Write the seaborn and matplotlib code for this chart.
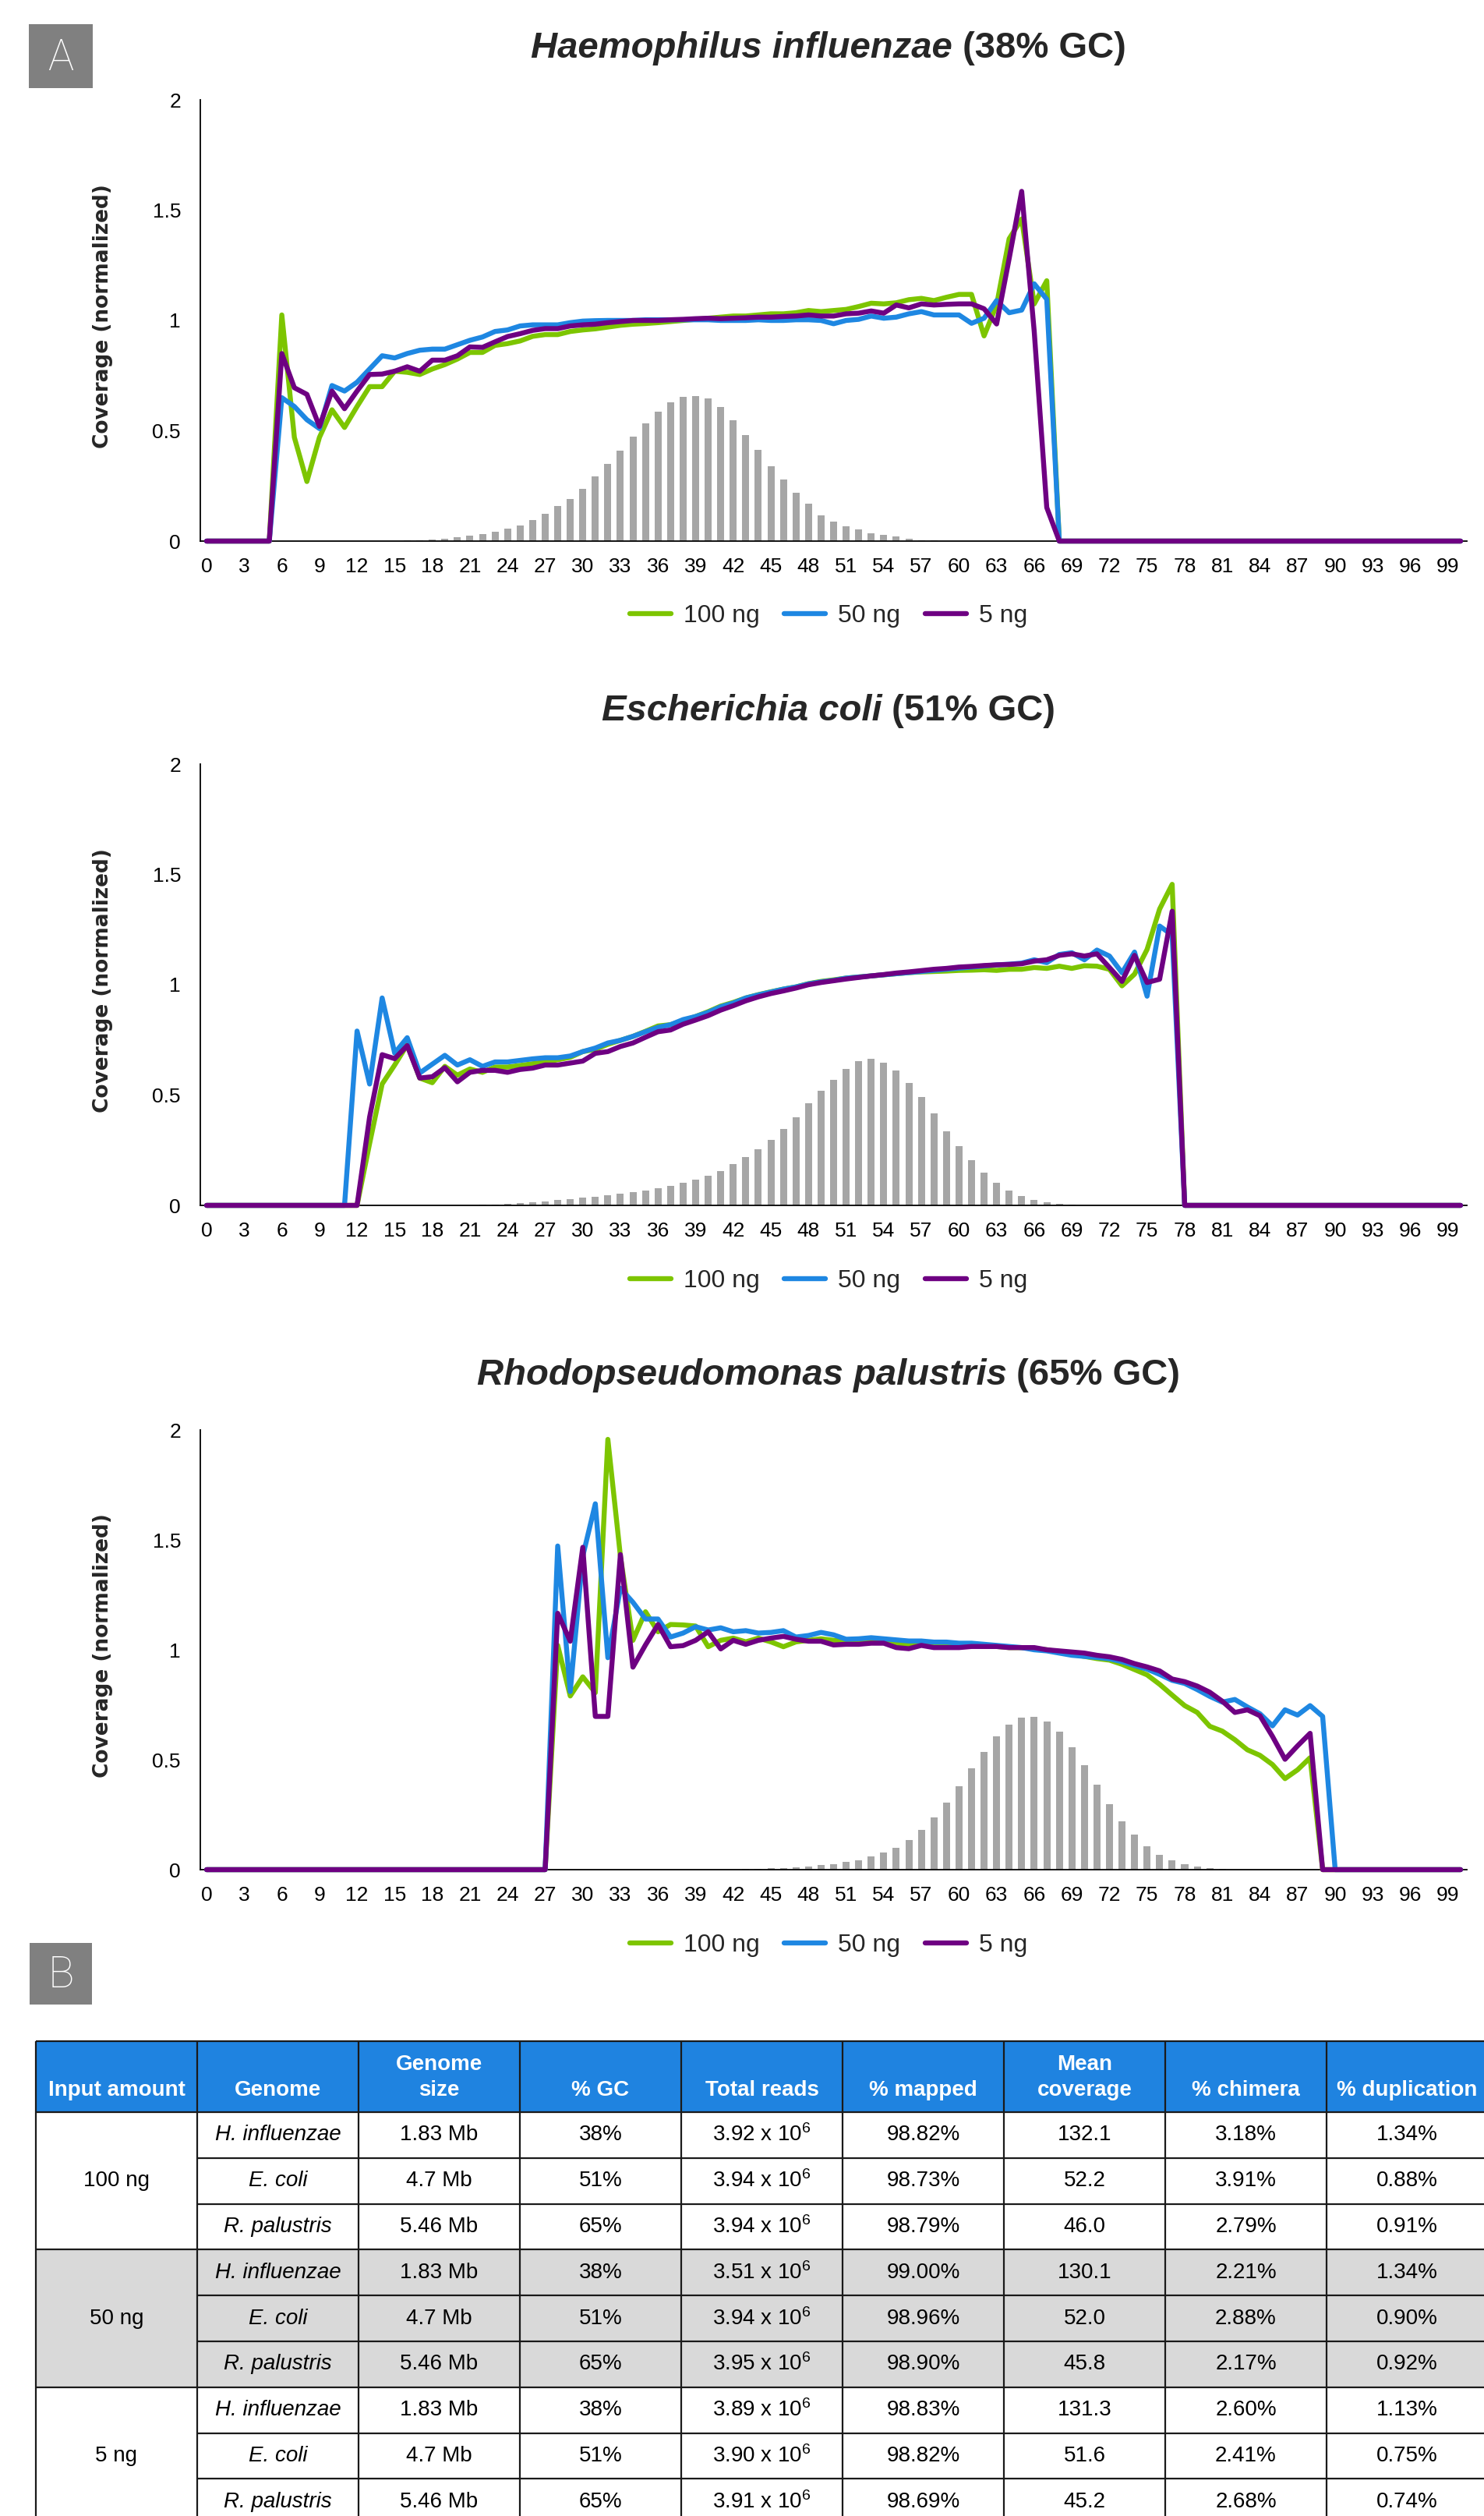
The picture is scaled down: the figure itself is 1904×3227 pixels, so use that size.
import numpy as np
import pandas as pd
import matplotlib
matplotlib.use("Agg")
import matplotlib.pyplot as plt
import seaborn as sns
from matplotlib.patches import Rectangle
from matplotlib.lines import Line2D

sns.set_theme(style="white")
plt.rcParams['font.family'] = ['Liberation Sans', 'DejaVu Sans']
plt.rcParams['mathtext.fontset'] = 'custom'
plt.rcParams['mathtext.rm'] = 'Liberation Sans'
plt.rcParams['mathtext.it'] = 'Liberation Sans:italic'
plt.rcParams['mathtext.bf'] = 'Liberation Sans:bold'

# ---------------- data ----------------
gc_bins = list(range(101))          # % GC categories 0..100
x_tick_values = list(range(0, 100, 3))
y_tick_values = [0, 0.5, 1, 1.5, 2]
y_tick_labels = ["0", "0.5", "1", "1.5", "2"]
series_labels = ["100 ng", "50 ng", "5 ng"]
series_colors = ["#7DC500", "#1E87E2", "#6E0082"]

hi_100 = [0, 0, 0, 0, 0, 0,
          1.025, 0.47, 0.27, 0.47, 0.595, 0.515, 0.61, 0.70, 0.70, 0.77,
          0.765, 0.755, 0.78, 0.80, 0.825, 0.855, 0.855, 0.887, 0.895, 0.907,
          0.928, 0.936, 0.936, 0.95, 0.957, 0.962, 0.97, 0.978, 0.983, 0.986,
          0.99, 0.995, 1.0, 1.005, 1.01, 1.015, 1.02, 1.02, 1.025, 1.03,
          1.03, 1.035, 1.045, 1.04, 1.045, 1.05, 1.063, 1.078, 1.075, 1.08,
          1.094, 1.10, 1.09, 1.105, 1.118, 1.118, 0.93, 1.07, 1.37, 1.46,
          1.075, 1.18,
          0, 0, 0, 0, 0, 0, 0, 0, 0, 0, 0, 0, 0, 0, 0, 0, 0, 0, 0, 0,
          0, 0, 0, 0, 0, 0, 0, 0, 0, 0, 0, 0, 0]
hi_50 = [0, 0, 0, 0, 0, 0,
         0.65, 0.61, 0.55, 0.51, 0.705, 0.68, 0.72, 0.78, 0.84, 0.83,
         0.85, 0.865, 0.87, 0.87, 0.89, 0.91, 0.925, 0.95, 0.957, 0.975,
         0.98, 0.98, 0.98, 0.99, 0.997, 0.999, 1.0, 1.0, 1.0, 1.003,
         1.003, 1.003, 1.003, 1.003, 1.003, 1.0, 1.0, 1.0, 1.003, 1.0,
         1.0, 1.003, 1.003, 1.0, 0.985, 1.0, 1.005, 1.02, 1.01, 1.015,
         1.03, 1.04, 1.025, 1.025, 1.025, 0.987, 1.01, 1.09, 1.035, 1.047,
         1.166, 1.096,
         0, 0, 0, 0, 0, 0, 0, 0, 0, 0, 0, 0, 0, 0, 0, 0, 0, 0, 0, 0,
         0, 0, 0, 0, 0, 0, 0, 0, 0, 0, 0, 0, 0]
hi_5 = [0, 0, 0, 0, 0, 0,
        0.85, 0.695, 0.665, 0.52, 0.68, 0.60, 0.68, 0.755, 0.757, 0.77,
        0.79, 0.77, 0.82, 0.82, 0.84, 0.88, 0.878, 0.903, 0.927, 0.94,
        0.955, 0.963, 0.963, 0.975, 0.98, 0.983, 0.99, 0.995, 1.0, 1.0,
        1.0, 1.003, 1.005, 1.008, 1.01, 1.008, 1.01, 1.012, 1.015, 1.015,
        1.018, 1.02, 1.025, 1.02, 1.02, 1.03, 1.033, 1.043, 1.033, 1.07,
        1.057, 1.075, 1.07, 1.073, 1.075, 1.075, 1.053, 0.984, 1.28, 1.585,
        0.95, 0.152,
        0, 0, 0, 0, 0, 0, 0, 0, 0, 0, 0, 0, 0, 0, 0, 0, 0, 0, 0, 0,
        0, 0, 0, 0, 0, 0, 0, 0, 0, 0, 0, 0, 0]
hi_bars = [0, 0, 0, 0, 0, 0, 0, 0, 0, 0, 0, 0, 0, 0, 0,
           0.001, 0.002, 0.004, 0.006, 0.012, 0.018, 0.024, 0.032, 0.041, 0.055,
           0.071, 0.094, 0.124, 0.159, 0.192, 0.238, 0.292, 0.351, 0.409, 0.473,
           0.532, 0.585, 0.628, 0.654, 0.656, 0.647, 0.607, 0.549, 0.482, 0.412,
           0.34, 0.279, 0.22, 0.168, 0.118, 0.09, 0.068, 0.052, 0.036, 0.028,
           0.02, 0.01, 0.004, 0.002, 0.001,
           0, 0, 0, 0, 0, 0, 0, 0, 0, 0, 0, 0, 0, 0, 0, 0, 0, 0, 0, 0,
           0, 0, 0, 0, 0, 0, 0, 0, 0, 0, 0, 0, 0, 0, 0, 0, 0, 0, 0, 0, 0]

ec_100 = [0, 0, 0, 0, 0, 0, 0, 0, 0, 0, 0, 0, 0,
          0.28, 0.55, 0.636, 0.728, 0.577, 0.556, 0.63, 0.59, 0.618, 0.603,
          0.627, 0.627, 0.634, 0.642, 0.65, 0.66, 0.671, 0.697, 0.707, 0.73,
          0.748, 0.766, 0.789, 0.813, 0.819, 0.836, 0.856, 0.878, 0.903, 0.92,
          0.94, 0.955, 0.968, 0.98, 0.99, 1.005, 1.015, 1.022, 1.03, 1.035,
          1.04, 1.045, 1.05, 1.055, 1.058, 1.06, 1.062, 1.065, 1.066, 1.068,
          1.065, 1.07, 1.07, 1.078, 1.074, 1.084, 1.074, 1.086, 1.084, 1.07,
          0.995, 1.048, 1.16, 1.343, 1.455,
          0, 0, 0, 0, 0, 0, 0, 0, 0, 0, 0, 0, 0, 0, 0, 0, 0, 0, 0, 0, 0, 0, 0]
ec_50 = [0, 0, 0, 0, 0, 0, 0, 0, 0, 0, 0, 0,
         0.79, 0.55, 0.94, 0.69, 0.76, 0.60, 0.64, 0.68, 0.636, 0.66,
         0.63, 0.65, 0.65, 0.657, 0.664, 0.669, 0.669, 0.677, 0.697, 0.713,
         0.736, 0.748, 0.766, 0.787, 0.807, 0.819, 0.842, 0.856, 0.875, 0.90,
         0.917, 0.94, 0.954, 0.967, 0.98, 0.99, 1.004, 1.013, 1.02, 1.03,
         1.035, 1.04, 1.045, 1.05, 1.055, 1.06, 1.065, 1.07, 1.075, 1.08,
         1.085, 1.09, 1.093, 1.098, 1.113, 1.10, 1.137, 1.145, 1.113, 1.157,
         1.13, 1.054, 1.148, 0.948, 1.266, 1.225,
         0, 0, 0, 0, 0, 0, 0, 0, 0, 0, 0, 0, 0, 0, 0, 0, 0, 0, 0, 0, 0, 0, 0]
ec_5 = [0, 0, 0, 0, 0, 0, 0, 0, 0, 0, 0, 0, 0,
        0.40, 0.683, 0.665, 0.724, 0.577, 0.583, 0.624, 0.56, 0.603, 0.612,
        0.612, 0.603, 0.616, 0.622, 0.636, 0.636, 0.645, 0.654, 0.689, 0.697,
        0.72, 0.736, 0.762, 0.787, 0.795, 0.821, 0.84, 0.86, 0.885, 0.905,
        0.927, 0.945, 0.96, 0.972, 0.985, 1.0, 1.01, 1.018, 1.026, 1.033,
        1.04, 1.046, 1.053, 1.058, 1.064, 1.07, 1.074, 1.08, 1.083, 1.087,
        1.09, 1.092, 1.095, 1.107, 1.113, 1.133, 1.14, 1.13, 1.14, 1.078,
        1.015, 1.133, 1.01, 1.025, 1.333,
        0, 0, 0, 0, 0, 0, 0, 0, 0, 0, 0, 0, 0, 0, 0, 0, 0, 0, 0, 0, 0, 0, 0]
ec_bars = [0, 0, 0, 0, 0, 0, 0, 0, 0, 0, 0, 0, 0, 0, 0, 0, 0, 0, 0, 0, 0, 0,
           0.002, 0.004, 0.006, 0.009, 0.013, 0.018, 0.024, 0.03, 0.035, 0.04,
           0.046, 0.054, 0.061, 0.068, 0.076, 0.087, 0.102, 0.116, 0.135, 0.157,
           0.187, 0.218, 0.255, 0.298, 0.348, 0.401, 0.462, 0.519, 0.569, 0.619,
           0.652, 0.665, 0.647, 0.612, 0.556, 0.49, 0.416, 0.336, 0.268, 0.205,
           0.148, 0.104, 0.068, 0.041, 0.024, 0.013, 0.006, 0.003,
           0, 0, 0, 0, 0, 0, 0, 0, 0, 0, 0, 0, 0, 0, 0, 0, 0, 0, 0, 0,
           0, 0, 0, 0, 0, 0, 0, 0, 0, 0, 0]

rp_100 = [0, 0, 0, 0, 0, 0, 0, 0, 0, 0, 0, 0, 0, 0, 0, 0, 0, 0, 0, 0,
          0, 0, 0, 0, 0, 0, 0, 0,
          1.02, 0.79, 0.877, 0.805, 1.957, 1.426, 1.043, 1.173, 1.082, 1.115,
          1.113, 1.108, 1.014, 1.043, 1.053, 1.036, 1.053, 1.036, 1.014, 1.036,
          1.043, 1.05, 1.043, 1.039, 1.04, 1.045, 1.035, 1.03, 1.025, 1.025,
          1.02, 1.02, 1.02, 1.02, 1.015, 1.015, 1.01, 1.01, 1.005, 1.0,
          0.99, 0.98, 0.97, 0.96, 0.953, 0.934, 0.91, 0.886, 0.843, 0.794,
          0.746, 0.715, 0.652, 0.63, 0.591, 0.545, 0.52, 0.478, 0.414, 0.454,
          0.509,
          0, 0, 0, 0, 0, 0, 0, 0, 0, 0, 0, 0]
rp_50 = [0, 0, 0, 0, 0, 0, 0, 0, 0, 0, 0, 0, 0, 0, 0, 0, 0, 0, 0, 0,
         0, 0, 0, 0, 0, 0, 0, 0,
         1.472, 0.81, 1.426, 1.664, 0.964, 1.28, 1.216, 1.14, 1.14, 1.058,
         1.076, 1.105, 1.09, 1.10, 1.082, 1.087, 1.076, 1.079, 1.087, 1.058,
         1.065, 1.079, 1.068, 1.048, 1.05, 1.055, 1.05, 1.045, 1.04, 1.04,
         1.035, 1.035, 1.03, 1.03, 1.025, 1.02, 1.015, 1.01, 1.0, 0.995,
         0.985, 0.975, 0.97, 0.965, 0.959, 0.946, 0.928, 0.912, 0.888, 0.861,
         0.847, 0.819, 0.788, 0.762, 0.774, 0.74, 0.709, 0.654, 0.727, 0.703,
         0.746, 0.697,
         0, 0, 0, 0, 0, 0, 0, 0, 0, 0, 0]
rp_5 = [0, 0, 0, 0, 0, 0, 0, 0, 0, 0, 0, 0, 0, 0, 0, 0, 0, 0, 0, 0,
        0, 0, 0, 0, 0, 0, 0, 0,
        1.166, 1.039, 1.466, 0.697, 0.697, 1.433, 0.921, 1.022, 1.115, 1.014,
        1.019, 1.043, 1.082, 1.004, 1.043, 1.025, 1.043, 1.053, 1.061, 1.048,
        1.039, 1.039, 1.022, 1.025, 1.025, 1.03, 1.03, 1.01, 1.005, 1.02,
        1.01, 1.01, 1.01, 1.015, 1.015, 1.015, 1.01, 1.01, 1.01, 1.0,
        0.995, 0.99, 0.985, 0.975, 0.968, 0.956, 0.937, 0.922, 0.904, 0.867,
        0.855, 0.835, 0.807, 0.766, 0.715, 0.727, 0.70, 0.606, 0.502, 0.563,
        0.62,
        0, 0, 0, 0, 0, 0, 0, 0, 0, 0, 0, 0]
rp_bars = [0, 0, 0, 0, 0, 0, 0, 0, 0, 0, 0, 0, 0, 0, 0, 0, 0, 0, 0, 0,
           0, 0, 0, 0, 0, 0, 0, 0, 0, 0, 0, 0, 0, 0, 0, 0, 0, 0, 0, 0, 0, 0,
           0.001, 0.002, 0.004, 0.006, 0.008, 0.011, 0.014, 0.02, 0.026, 0.034,
           0.044, 0.059, 0.077, 0.101, 0.135, 0.18, 0.238, 0.304, 0.378, 0.462,
           0.536, 0.605, 0.66, 0.691, 0.695, 0.673, 0.627, 0.557, 0.475, 0.386,
           0.298, 0.22, 0.158, 0.108, 0.069, 0.042, 0.025, 0.013, 0.006, 0.002,
           0.001,
           0, 0, 0, 0, 0, 0, 0, 0, 0, 0, 0, 0, 0, 0, 0, 0, 0, 0]

organisms_italic = ["Haemophilus influenzae", "Escherichia coli", "Rhodopseudomonas palustris"]
organisms_gc = ["(38% GC)", "(51% GC)", "(65% GC)"]

# table data
table_header = ["Input amount", "Genome", "Genome\nsize", "% GC", "Total reads",
                "% mapped", "Mean\ncoverage", "% chimera", "% duplication"]
input_amounts = ["100 ng", "50 ng", "5 ng"]
genome_names = ["H. influenzae", "E. coli", "R. palustris"]
genome_sizes = ["1.83 Mb", "4.7 Mb", "5.46 Mb"]
genome_gc = ["38%", "51%", "65%"]
total_reads_e6 = [3.92, 3.94, 3.94, 3.51, 3.94, 3.95, 3.89, 3.90, 3.91]
pct_mapped = ["98.82%", "98.73%", "98.79%", "99.00%", "98.96%", "98.90%", "98.83%", "98.82%", "98.69%"]
mean_coverage = ["132.1", "52.2", "46.0", "130.1", "52.0", "45.8", "131.3", "51.6", "45.2"]
pct_chimera = ["3.18%", "3.91%", "2.79%", "2.21%", "2.88%", "2.17%", "2.60%", "2.41%", "2.68%"]
pct_duplication = ["1.34%", "0.88%", "0.91%", "1.34%", "0.90%", "0.92%", "1.13%", "0.75%", "0.74%"]

for s in [hi_100, hi_50, hi_5, hi_bars, ec_100, ec_50, ec_5, ec_bars, rp_100, rp_50, rp_5, rp_bars]:
    assert len(s) == 101, len(s)

# ---------------- figure ----------------
W, H = 1904, 3227
fig = plt.figure(figsize=(W / 100, H / 100), dpi=100, facecolor="white")

# overlay axes in pixel coordinates for panel letters and table
ov = fig.add_axes([0, 0, 1, 1])
ov.set_xlim(0, W)
ov.set_ylim(H, 0)
ov.axis("off")
ov.patch.set_visible(False)

for letter, (bx, by, bw, bh) in [("A", (37, 31, 82, 82)), ("B", (38, 2492, 80, 79))]:
    ov.add_patch(Rectangle((bx, by), bw, bh, facecolor="#808080", edgecolor="none"))
    ov.text(bx + bw / 2, by + bh / 2 + 2, letter, color="white", fontsize=40,
            family=["Roboto", "DejaVu Sans"], fontweight="light", ha="center", va="center")

panels = [
    dict(s=(hi_100, hi_50, hi_5), bars=hi_bars, top=128, bot=694, title_y=62, leg_y=790),
    dict(s=(ec_100, ec_50, ec_5), bars=ec_bars, top=980, bot=1546, title_y=912, leg_y=1643),
    dict(s=(rp_100, rp_50, rp_5), bars=rp_bars, top=1834, bot=2398, title_y=1764, leg_y=2495),
]

AX_L, AX_W = 257, 1625
title_parts = []
for i, p in enumerate(panels):
    ax = fig.add_axes([AX_L / W, 1 - p["bot"] / H, AX_W / W, (p["bot"] - p["top"]) / H])
    ax.patch.set_visible(False)
    bar_df = pd.DataFrame({"gc": gc_bins, "frac": p["bars"]})
    sns.barplot(data=bar_df, x="gc", y="frac", color="#A6A6A6", saturation=1,
                width=0.56, native_scale=True, linewidth=0, ax=ax, zorder=1)
    rows = []
    for lab, ser in zip(series_labels, p["s"]):
        for g, v in zip(gc_bins, ser):
            rows.append((g, v, lab))
    line_df = pd.DataFrame(rows, columns=["gc", "cov", "input"])
    sns.lineplot(data=line_df, x="gc", y="cov", hue="input", hue_order=series_labels,
                 palette=series_colors, linewidth=4.6, estimator=None, errorbar=None,
                 sort=False, legend=False, ax=ax, clip_on=False, zorder=3,
                 solid_joinstyle="round", solid_capstyle="round")
    ax.set_xlim(-0.5, 100.5)
    ax.set_ylim(0, 2)
    ax.set_xticks(x_tick_values)
    ax.set_xticklabels([str(v) for v in x_tick_values])
    ax.set_yticks(y_tick_values)
    ax.set_yticklabels(y_tick_labels)
    ax.set_xlabel("")
    ax.set_ylabel("")
    ax.tick_params(axis="both", length=0, labelsize=19, colors="black")
    ax.tick_params(axis="x", pad=15)
    ax.tick_params(axis="y", pad=18)
    for sp in ["top", "right"]:
        ax.spines[sp].set_visible(False)
    for sp in ["left", "bottom"]:
        ax.spines[sp].set_color("black")
        ax.spines[sp].set_linewidth(1.3)
        ax.spines[sp].set_zorder(2)
    ax.grid(False)

    handles = [Line2D([0], [0], color=c, lw=4.6) for c in series_colors]
    ax.legend(handles, series_labels, loc="center", bbox_to_anchor=(1063 / W, 1 - p["leg_y"] / H),
              bbox_transform=fig.transFigure, ncol=3, frameon=False, fontsize=23,
              handlelength=1.65, handletextpad=0.5, columnspacing=1.0)

    fig.text(132 / W, 1 - ((p["top"] + p["bot"]) / 2 - 5) / H, "Coverage (normalized)",
             rotation=90, ha="center", va="center", fontsize=19, fontweight="bold",
             family=["DejaVu Sans"])

    t1 = fig.text(0, 1 - p["title_y"] / H, organisms_italic[i], fontsize=34,
                  fontweight="bold", fontstyle="italic", ha="left", va="center")
    t2 = fig.text(0, 1 - p["title_y"] / H, organisms_gc[i], fontsize=34,
                  fontweight="bold", ha="left", va="center")
    title_parts.append((t1, t2))

# ---------------- table ----------------
T_LEFT, COL_W = 46, 207
T_TOP, HDR_BOT, ROW_H = 2618, 2709, 58.8
n_rows = 9
col_x = [T_LEFT + COL_W * k for k in range(10)]
table_bottom = HDR_BOT + ROW_H * n_rows

ov.add_patch(Rectangle((T_LEFT, T_TOP), COL_W * 9, HDR_BOT - T_TOP,
                       facecolor="#1F83E0", edgecolor="none", zorder=1))
ov.add_patch(Rectangle((T_LEFT, HDR_BOT + 3 * ROW_H), COL_W * 9, 3 * ROW_H,
                       facecolor="#D9D9D9", edgecolor="none", zorder=1))

line_kw = dict(color="#1a1a1a", lw=1.6, zorder=2, solid_capstyle="butt")
ov.plot([T_LEFT, T_LEFT + COL_W * 9], [T_TOP, T_TOP], **line_kw)
ov.plot([T_LEFT, T_LEFT + COL_W * 9], [HDR_BOT, HDR_BOT], **line_kw)
for r in range(1, n_rows + 1):
    y = HDR_BOT + r * ROW_H
    x_start = T_LEFT if r % 3 == 0 else col_x[1]
    ov.plot([x_start, T_LEFT + COL_W * 9], [y, y], **line_kw)
for x in col_x:
    ov.plot([x, x], [T_TOP, table_bottom], **line_kw)

# header text
for k, htxt in enumerate(table_header):
    cx = col_x[k] + COL_W / 2
    lines_h = htxt.split("\n")
    if len(lines_h) == 1:
        ov.text(cx, 2681, lines_h[0], color="white", fontsize=20, fontweight="bold",
                ha="center", va="center", zorder=3)
    else:
        ov.text(cx, 2648, lines_h[0], color="white", fontsize=20, fontweight="bold",
                ha="center", va="center", zorder=3)
        ov.text(cx, 2681, lines_h[1], color="white", fontsize=20, fontweight="bold",
                ha="center", va="center", zorder=3)

# body
for g, amount in enumerate(input_amounts):
    yc = HDR_BOT + (3 * g + 1.5) * ROW_H
    ov.text(col_x[0] + COL_W / 2, yc, amount, fontsize=20, color="black",
            ha="center", va="center", zorder=3)
for r in range(n_rows):
    yc = HDR_BOT + (r + 0.5) * ROW_H
    gi = r % 3
    cells = [genome_names[gi], genome_sizes[gi], genome_gc[gi],
             "%.2f x $10^{6}$" % total_reads_e6[r], pct_mapped[r], mean_coverage[r],
             pct_chimera[r], pct_duplication[r]]
    for k, txt in enumerate(cells, start=1):
        ov.text(col_x[k] + COL_W / 2, yc, txt, fontsize=20, color="black",
                fontstyle="italic" if k == 1 else "normal",
                ha="center", va="center", zorder=3)

# center the two-part titles
fig.canvas.draw()
rend = fig.canvas.get_renderer()
for t1, t2 in title_parts:
    w1 = t1.get_window_extent(rend).width
    w2 = t2.get_window_extent(rend).width
    gap = 13
    x0 = 1063 - (w1 + gap + w2) / 2
    t1.set_x(x0 / W)
    t2.set_x((x0 + w1 + gap) / W)

fig.savefig("out.png", dpi=100, facecolor="white")
